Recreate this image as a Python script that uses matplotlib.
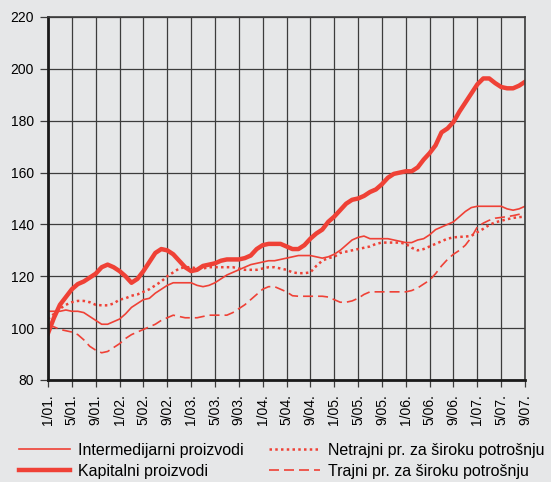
import matplotlib
matplotlib.use("Agg")
import matplotlib.pyplot as plt
import numpy as np

# monthly index values, 1/2001 .. 9/2007
intermedijarni = [
    106.5, 106.5, 106.5, 107, 106.5, 106.5, 106, 104.5, 103, 101.5,
    101.5, 102.5, 103.5, 105.5, 108, 109.5, 111, 111.5, 113.5, 115,
    116.5, 117.5, 117.5, 117.5, 117.5, 116.5, 116, 116.5, 117.5, 119,
    120.5, 121.5, 122.5, 123.5, 124.5, 125, 125.5, 126, 126, 126.5,
    127, 127.5, 128, 128, 128, 127.5, 127, 127.5, 128.5, 130,
    132, 134, 135, 135.5, 134.5, 134.5, 134.5, 134.5, 134, 133.5,
    133, 133, 134, 134.5, 136, 138, 139, 140, 141, 143,
    145, 146.5, 147, 147, 147, 147, 147, 146, 145.5, 146,
    147,
]
kapitalni = [
    98, 104, 109, 112, 115, 117, 118, 119.5, 121, 123.5,
    124.5, 123.5, 122, 120, 117.5, 119, 122, 125.5, 129, 130.5,
    130, 128.5, 126, 123.5, 122, 122.5, 124, 124.5, 125, 126,
    126.5, 126.5, 126.5, 127, 128, 130.5, 132, 132.5, 132.5, 132.5,
    131.5, 130.5, 130.5, 132, 134.5, 136.5, 138, 141, 143, 145.5,
    148, 149.5, 150, 151, 152.5, 153.5, 155.5, 158, 159.5, 160,
    160.5, 160.5, 162, 165, 167.5, 170.5, 175.5, 177, 179.5, 183.5,
    187, 190.5, 194, 196.3, 196.3, 194.5, 193, 192.5, 192.5, 193.5,
    195,
]
netrajni = [
    103.5, 105.5, 107.5, 109, 110, 110.5, 110.5, 110, 109, 108.8,
    108.8, 109.5, 111, 111.5, 112.5, 113, 114, 115, 116.5, 118,
    120, 121.5, 123, 123.5, 123.5, 123, 123, 123.5, 123.5, 123.5,
    123.5, 123.5, 123, 122.5, 122.5, 122.5, 123, 123.5, 123.5, 123,
    122.5, 121.5, 121.2, 121.2, 121.5, 124, 126, 127, 127.5, 129,
    129.5, 130, 130.5, 131, 131.5, 132.5, 133, 133, 133, 133,
    132.5, 131, 130, 130.5, 131.5, 132.5, 133.5, 134.5, 135, 135.2,
    135.3, 135.6, 137, 138.3, 139.8, 140.8, 141.4, 142, 142.5, 142.8,
    143,
]
trajni = [
    101, 100.5, 99.5, 99, 98.5, 97.5, 95.5, 93, 91.5, 90.5,
    91, 92.5, 94, 96, 97.5, 98.5, 99.5, 100.5, 101.5, 103,
    104, 105, 104.5, 104, 104, 104, 104.5, 105, 105, 105,
    105, 106, 107.5, 109, 111, 113, 115, 116, 116, 115,
    114, 112.5, 112.3, 112.3, 112.3, 112.3, 112.3, 112, 111, 110,
    110, 110.5, 111.5, 113, 114, 114, 114, 114, 114, 114,
    114, 114.5, 115.5, 117, 118.5, 121, 124, 126.5, 128.5, 130,
    132, 135, 139, 140.5, 141.6, 142.4, 142.7, 143, 143.4, 143.9,
    144.5,
]
tick_labels = [
    "1/01.", "5/01.", "9/01.", "1/02.", "5/02.", "9/02.", "1/03.",
    "5/03.", "9/03.", "1/04.", "5/04.", "9/04.", "1/05.", "5/05.",
    "9/05.", "1/06.", "5/06.", "9/06.", "1/07.", "5/07.", "9/07.",
]

bg = "#e6e7e8"
red = "#ef4136"
plt.rcParams["font.family"] = ["Liberation Sans", "DejaVu Sans"]

fig = plt.figure(figsize=(5.51, 4.82), dpi=100, facecolor=bg)
ax = fig.add_axes([48/551, 1 - 380/482, 477/551, 363/482], facecolor=bg)

x = np.arange(len(kapitalni))
ax.plot(x, intermedijarni, color=red, lw=1.2, label="Intermedijarni proizvodi")
ax.plot(x, kapitalni, color=red, lw=3.2, label="Kapitalni proizvodi")
ax.plot(x, netrajni, color=red, lw=1.8, ls=(0, (1, 1.3)), label="Netrajni pr. za široku potrošnju")
ax.plot(x, trajni, color=red, lw=1.2, ls=(0, (6, 3)), label="Trajni pr. za široku potrošnju")

ax.set_xlim(0, 80)
ax.set_ylim(80, 220)
ax.set_yticks(np.arange(80, 221, 20))
ax.set_xticks(np.arange(0, 81, 4))
ax.set_xticklabels(tick_labels, rotation=90)
ax.grid(True, color="#3c3c3c", lw=0.9)
ax.set_axisbelow(True)
ax.tick_params(axis="both", labelsize=10, color="#3c3c3c", length=5, width=0.9)
ax.tick_params(axis="x", pad=5)
ax.tick_params(axis="y", length=6, pad=4)
for side in ["left", "bottom"]:
    ax.spines[side].set_linewidth(2)
    ax.spines[side].set_color("#1a1a1a")
for side in ["top", "right"]:
    ax.spines[side].set_linewidth(1.2)
    ax.spines[side].set_color("#3c3c3c")

fig.legend(loc="upper left", bbox_to_anchor=(19/551, 1 - 443/482), ncol=2,
           frameon=False, fontsize=11.5, handlelength=3.2, handletextpad=0.5,
           columnspacing=1.6, labelspacing=0.35, borderpad=0, borderaxespad=0)

plt.savefig("out.png", facecolor=bg)
